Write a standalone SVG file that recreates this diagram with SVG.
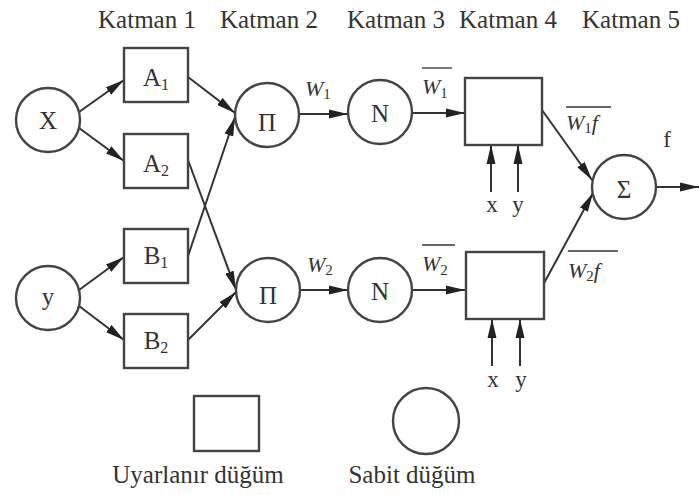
<svg xmlns="http://www.w3.org/2000/svg" width="699" height="495" viewBox="0 0 699 495" font-family="'Liberation Serif', Tinos, 'Times New Roman', 'DejaVu Serif', serif">
<style>
text{font-family:"Liberation Serif",Tinos,"Times New Roman","DejaVu Serif",serif;fill:#333;}
.lbl{font-size:25px;text-anchor:middle;}
.nd{font-size:25px;text-anchor:middle;}
.sub{font-size:16px;}
.it{font-style:italic;}
.shape{fill:#fff;stroke:#444;stroke-width:2.4;}
.edge{fill:none;stroke:#333;stroke-width:2;marker-end:url(#ah);}
.ov{stroke:#333;stroke-width:1.3;}
</style>
<defs>
<marker id="ah" markerUnits="userSpaceOnUse" markerWidth="20" markerHeight="10" refX="19" refY="5" orient="auto">
<path d="M0,0.5 L19,5 L0,9.5 Z" fill="#222"/>
</marker>
</defs>
<rect width="699" height="495" fill="#fff"/>
<g id="layers">
<text class="lbl" x="147" y="28">Katman 1</text>
<text class="lbl" x="269" y="28">Katman 2</text>
<text class="lbl" x="396" y="28">Katman 3</text>
<text class="lbl" x="508" y="28">Katman 4</text>
<text class="lbl" x="631" y="28">Katman 5</text>
</g>
<g id="connectors">
<line class="edge" x1="79" y1="112" x2="124" y2="80"/>
<line class="edge" x1="79" y1="128" x2="124" y2="161"/>
<line class="edge" x1="79" y1="290" x2="124" y2="257"/>
<line class="edge" x1="79" y1="306" x2="124" y2="340"/>
<line class="edge" x1="188" y1="77" x2="235" y2="113"/>
<line class="edge" x1="188" y1="256" x2="235" y2="117"/>
<line class="edge" x1="188" y1="160" x2="236" y2="290"/>
<line class="edge" x1="188" y1="340" x2="236" y2="292"/>
<line class="edge" x1="300" y1="114" x2="348" y2="114"/>
<line class="edge" x1="412" y1="113" x2="465" y2="113"/>
<line class="edge" x1="300" y1="290" x2="348" y2="290"/>
<line class="edge" x1="412" y1="290" x2="465" y2="290"/>
<line class="edge" x1="542" y1="110" x2="592" y2="180"/>
<line class="edge" x1="543" y1="285" x2="593" y2="193"/>
<line class="edge" x1="656" y1="187" x2="699" y2="187"/>
<line class="edge" x1="491" y1="192" x2="491" y2="145"/>
<line class="edge" x1="518" y1="192" x2="518" y2="145"/>
<line class="edge" x1="492" y1="366" x2="492" y2="319"/>
<line class="edge" x1="520" y1="366" x2="520" y2="319"/>
</g>
<g id="nodeX"><circle class="shape" cx="48" cy="120" r="32"/><text class="nd" x="48" y="129">X</text></g>
<g id="nodeY"><circle class="shape" cx="48" cy="298" r="32"/><text class="nd" x="48" y="305">y</text></g>
<g id="nodeA1"><rect class="shape" x="124" y="48" width="64" height="54"/><text class="nd" x="156" y="86">A<tspan class="sub" dy="4">1</tspan></text></g>
<g id="nodeA2"><rect class="shape" x="124" y="134" width="64" height="54"/><text class="nd" x="156" y="172">A<tspan class="sub" dy="4">2</tspan></text></g>
<g id="nodeB1"><rect class="shape" x="124" y="229" width="64" height="54"/><text class="nd" x="156" y="264">B<tspan class="sub" dy="4">1</tspan></text></g>
<g id="nodeB2"><rect class="shape" x="124" y="314" width="64" height="54"/><text class="nd" x="156" y="349">B<tspan class="sub" dy="4">2</tspan></text></g>
<g id="nodePi1"><circle class="shape" cx="267" cy="115" r="32"/><text class="nd" x="267" y="131" font-size="23">Π</text></g>
<g id="nodePi2"><circle class="shape" cx="268" cy="290" r="32"/><text class="nd" x="268" y="304" font-size="23">Π</text></g>
<g id="nodeN1"><circle class="shape" cx="380" cy="112" r="32"/><text class="nd" x="380" y="122">N</text></g>
<g id="nodeN2"><circle class="shape" cx="380" cy="290" r="32"/><text class="nd" x="380" y="300">N</text></g>
<g id="nodeBox1"><rect class="shape" x="465" y="78" width="77" height="67"/></g>
<g id="nodeBox2"><rect class="shape" x="466" y="252" width="78" height="67"/></g>
<g id="nodeSigma"><circle class="shape" cx="624" cy="187" r="32"/><text class="nd" x="624" y="198" font-size="21">Σ</text></g>
<g id="edgeLabels">
<text x="305" y="96" font-size="22"><tspan class="it">W</tspan><tspan font-size="15" dy="3">1</tspan></text>
<text x="307" y="272" font-size="22"><tspan class="it">W</tspan><tspan font-size="15" dy="3">2</tspan></text>
<text x="422" y="94" font-size="22"><tspan class="it">W</tspan><tspan font-size="15" dy="4">1</tspan></text>
<line class="ov" x1="422" y1="68" x2="452" y2="68"/>
<text x="422" y="271" font-size="22"><tspan class="it">W</tspan><tspan font-size="15" dy="4">2</tspan></text>
<line class="ov" x1="422" y1="245" x2="455" y2="245"/>
<text x="566" y="130" font-size="22"><tspan class="it">W</tspan><tspan font-size="15" dy="3">1</tspan><tspan class="it" dy="-3">f</tspan></text>
<line class="ov" x1="566" y1="107" x2="611" y2="107"/>
<text x="568" y="278" font-size="22"><tspan class="it">W</tspan><tspan font-size="15" dy="3">2</tspan><tspan class="it" dy="-3">f</tspan></text>
<line class="ov" x1="568" y1="251" x2="618" y2="251"/>
<text x="667" y="147" font-size="23" text-anchor="middle">f</text>
<text x="492" y="212" font-size="23" text-anchor="middle">x</text>
<text x="518" y="212" font-size="23" text-anchor="middle">y</text>
<text x="493" y="387" font-size="23" text-anchor="middle">x</text>
<text x="521" y="387" font-size="23" text-anchor="middle">y</text>
</g>
<g id="legendAdaptive"><rect class="shape" x="194" y="396" width="65" height="55"/><text class="lbl" x="198" y="483">Uyarlanır düğüm</text></g>
<g id="legendFixed"><circle class="shape" cx="426" cy="421" r="33"/><text class="lbl" x="412" y="483">Sabit düğüm</text></g>
</svg>
